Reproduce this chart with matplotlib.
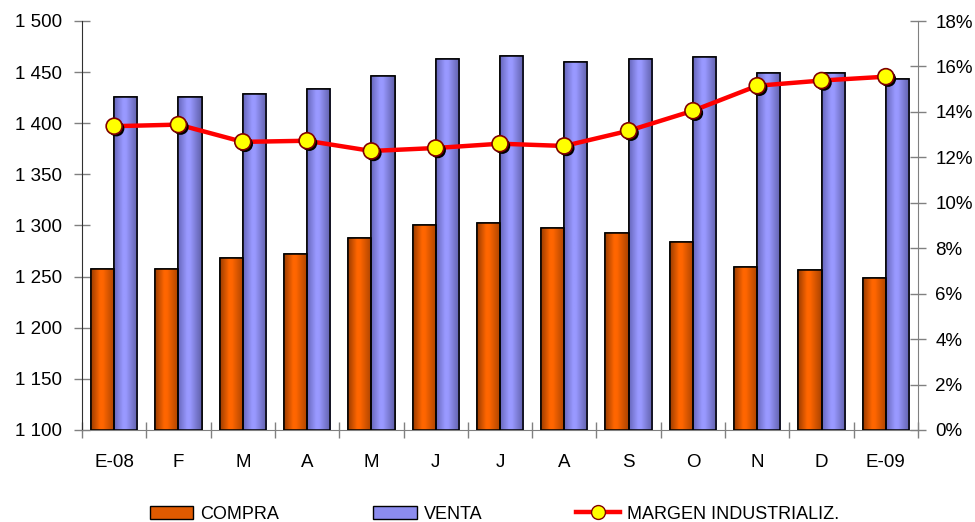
import numpy as np
import matplotlib
matplotlib.use("Agg")
import matplotlib.pyplot as plt
from matplotlib.colors import LinearSegmentedColormap
from matplotlib.patches import Patch
from matplotlib.lines import Line2D
from matplotlib.ticker import FuncFormatter, FixedLocator
import matplotlib.patheffects as pe

plt.rcParams['font.family'] = ['Liberation Sans', 'DejaVu Sans']

meses = ["E-08", "F", "M", "A", "M", "J", "J", "A", "S", "O", "N", "D", "E-09"]
compra = [1257.5, 1257, 1268, 1272, 1288, 1300, 1302, 1298, 1293, 1284, 1259, 1256, 1249]
venta = [1426, 1426, 1429, 1433.5, 1446, 1463, 1466, 1460, 1463, 1464.5, 1449, 1449, 1443]
margen = [13.37, 13.44, 12.68, 12.73, 12.28, 12.41, 12.60, 12.50, 13.17, 14.05, 15.15, 15.38, 15.55]

fig = plt.figure(figsize=(9.75, 5.22), dpi=100)
ax = fig.add_axes([82 / 975, 92 / 522, 836 / 975, 409 / 522])
ax2 = ax.twinx()

x = np.arange(len(meses))
w = 0.36

orange_cmap = LinearSegmentedColormap.from_list(
    "naranja", [(0, "#9a3c00"), (0.38, "#ff6600"), (0.5, "#ff6600"), (1, "#a84200")])
blue_cmap = LinearSegmentedColormap.from_list(
    "azul", [(0, "#6666bb"), (0.38, "#9999ff"), (0.5, "#9999ff"), (1, "#5e5ea8")])

bars_c = ax.bar(x - w / 2, compra, w, bottom=0, color="#ff6600",
                edgecolor="black", linewidth=1.1, zorder=2)
bars_v = ax.bar(x + w / 2, venta, w, bottom=0, color="#9999ff",
                edgecolor="black", linewidth=1.1, zorder=2)

ax.set_xlim(-0.5, len(meses) - 0.5)
ax.set_ylim(1100, 1500)

# horizontal shading inside each bar
grad = np.linspace(0, 1, 256).reshape(1, -1)
for bars, cmap in ((bars_c, orange_cmap), (bars_v, blue_cmap)):
    for b in bars:
        x0, y0 = b.get_x(), 1100
        x1, y1 = b.get_x() + b.get_width(), b.get_height()
        im = ax.imshow(grad, cmap=cmap, aspect="auto",
                       extent=(x0, x1, y0, y1), zorder=2.5,
                       interpolation="bilinear")
        im.set_clip_path(b)
        edge = plt.Rectangle((x0, y0), x1 - x0, y1 - y0, fill=False,
                             edgecolor="black", linewidth=1.1, zorder=3)
        ax.add_patch(edge)

ax.set_xlim(-0.5, len(meses) - 0.5)
ax.set_ylim(1100, 1500)

# margin line on the secondary axis
ax2.set_ylim(0, 18)
ax2.plot(x, margen, color="#ff0000", linewidth=3.2, zorder=4,
         solid_capstyle="round")
ax2.plot(x, margen, linestyle="none", marker="o", markersize=11.5,
         markerfacecolor="#ffff00", markeredgecolor="#800000",
         markeredgewidth=1.2, zorder=5,
         path_effects=[pe.SimplePatchShadow(offset=(1.6, -1.6),
                                            shadow_rgbFace="black", alpha=1.0),
                       pe.Normal()])

ax.set_zorder(1)
ax2.set_zorder(2)
ax2.patch.set_visible(False)

# axes styling
for a in (ax, ax2):
    a.spines["top"].set_visible(False)
ax.spines["right"].set_visible(False)
ax2.spines["left"].set_visible(False)
ax2.spines["bottom"].set_visible(False)
ax.spines["left"].set_color("#303030")
ax.spines["bottom"].set_color("#808080")
ax2.spines["right"].set_color("#808080")

ax.set_yticks(np.arange(1100, 1501, 50))
ax.yaxis.set_major_formatter(FuncFormatter(lambda v, p: f"{int(v):,}".replace(",", " ")))
ax2.set_yticks(np.arange(0, 19, 2))
ax2.yaxis.set_major_formatter(FuncFormatter(lambda v, p: f"{int(v)}%"))

ax.tick_params(axis="y", direction="inout", length=11, width=1, color="#808080",
               labelsize=13.5, pad=9)
ax2.tick_params(axis="y", direction="inout", length=11, width=1, color="#808080",
                labelsize=13.5, pad=7)

ax.set_xticks(x)
ax.set_xticklabels(meses)
ax.xaxis.set_minor_locator(FixedLocator(np.arange(-0.5, len(meses), 1)))
ax.tick_params(axis="x", which="major", length=0, labelsize=13.5, pad=17)
ax.tick_params(axis="x", which="minor", direction="inout", length=12, width=1,
               color="#808080")

handles = [
    Patch(facecolor="#e05a00", edgecolor="black", linewidth=1.0, label="COMPRA"),
    Patch(facecolor="#8c8cee", edgecolor="black", linewidth=1.0, label="VENTA"),
    Line2D([0], [0], color="#ff0000", linewidth=3.2, marker="o", markersize=10,
           markerfacecolor="#ffff00", markeredgecolor="#800000",
           label="MARGEN INDUSTRIALIZ."),
]
leg = fig.legend(handles=handles, loc="center left", bbox_to_anchor=(150 / 975, 0.0153),
                 ncol=3, frameon=False, columnspacing=5.2,
                 handlelength=2.4, handletextpad=0.4, borderpad=0.0,
                 borderaxespad=0.0, prop={"size": 13})

fig.savefig("out.png", dpi=100)
